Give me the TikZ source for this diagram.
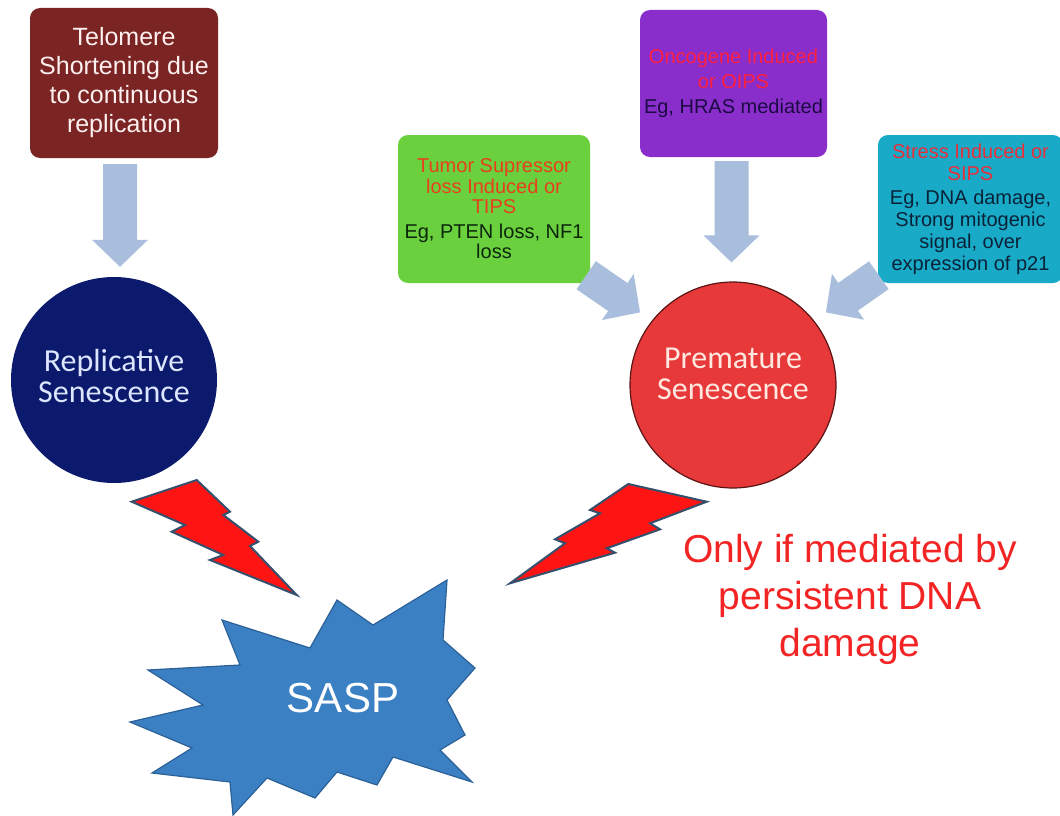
\documentclass[tikz,border=0pt]{standalone}
\usepackage{fontspec}
\setmainfont{Liberation Sans}
\newfontfamily\circfont{Carlito}
\usetikzlibrary{calc}

\definecolor{teloRed}{HTML}{7A2424}
\definecolor{teloText}{HTML}{FFF0F0}
\definecolor{tipsGreen}{HTML}{6AD03E}
\definecolor{tipsRed}{HTML}{E8401C}
\definecolor{tipsDark}{HTML}{0C260C}
\definecolor{oipsPurple}{HTML}{8A2ECB}
\definecolor{oipsRed}{HTML}{FF1F3F}
\definecolor{oipsDark}{HTML}{1C0A44}
\definecolor{sipsCyan}{HTML}{19AAC8}
\definecolor{sipsRed}{HTML}{E8303A}
\definecolor{sipsDark}{HTML}{0A2238}
\definecolor{repNavy}{HTML}{0B1A6C}
\definecolor{repText}{HTML}{DDE6FF}
\definecolor{preRed}{HTML}{E8393A}
\definecolor{preEdge}{HTML}{5A1414}
\definecolor{preText}{HTML}{FFE8E0}
\definecolor{arrowBlue}{HTML}{A8BEDC}
\definecolor{boltRed}{HTML}{FF1414}
\definecolor{boltEdge}{HTML}{34506C}
\definecolor{saspBlue}{HTML}{3B80C3}
\definecolor{saspEdge}{HTML}{2C6198}
\definecolor{noteRed}{HTML}{F22424}

% wide block arrow from #1 to #2 (tip at #2)
\newcommand\blockarrow[2]{%
  \path ($(#2)!27pt!(#1)$) coordinate (ba-base);
  \fill[arrowBlue] ($(#1)!17pt!-90:(#2)$) -- ($(ba-base)!17pt!90:(#1)$)
    -- ($(ba-base)!28pt!90:(#1)$) -- (#2) -- ($(ba-base)!28pt!-90:(#1)$)
    -- ($(ba-base)!17pt!-90:(#1)$) -- ($(#1)!17pt!90:(#2)$) -- cycle;}

\begin{document}
\begin{tikzpicture}[x=1pt,y=-1pt,
  box/.style={rounded corners=10pt, inner sep=0pt, align=center,
    font=\fontsize{20}{20.5}\selectfont},
  disc/.style={circle, inner sep=0pt, minimum size=206pt},
  disctext/.style={align=center, inner sep=0pt, font=\circfont\fontsize{32}{31}\selectfont},
  bolt/.style={fill=boltRed, draw=boltEdge, line width=2pt, line join=miter},
]
\useasboundingbox (0,0) rectangle (1060,816);
\fill[white] (0,0) rectangle (1060,816);

% cause boxes
\node[box, fill=teloRed, minimum width=188pt, minimum height=150pt,
  text=teloText, font=\fontsize{25}{29}\selectfont] (telo) at (124,83)
  {Telomere\\Shortening due\\to continuous\\replication};
\node[box, fill=tipsGreen, minimum width=192pt, minimum height=148pt,
  text=tipsDark] (tips) at (494,209)
  {\color{tipsRed}Tumor Supressor\\\color{tipsRed}loss Induced or\\\color{tipsRed}TIPS\\[4pt]
   Eg, PTEN loss, NF1\\loss};
\node[box, fill=oipsPurple, minimum width=187pt, minimum height=147pt,
  text=oipsDark, font=\fontsize{20}{25}\selectfont] (oips) at (733.5,83.5)
  {\color{oipsRed}Oncogene Induced\\\color{oipsRed}or OIPS\\
   Eg, HRAS mediated};
\node[box, fill=sipsCyan, minimum width=185pt, minimum height=148pt,
  text=sipsDark, font=\fontsize{20}{22}\selectfont] (sips) at (970.5,209)
  {\color{sipsRed}Stress Induced or\\\color{sipsRed}SIPS\\[2pt]
   Eg, DNA damage,\\Strong mitogenic\\signal, over\\expression of p21};

% senescence states
\node[disc, fill=repNavy] (rep) at (114,380) {};
\node[disctext, text=repText] (reptext) at (114,376) {Replicative\\Senescence};
\node[disc, fill=preRed, draw=preEdge, line width=1.2pt] (pre) at (733,385) {};
\node[disctext, text=preText] (pretext) at (733,374) {Premature\\Senescence};

% block arrows into the senescence states
\coordinate (a1s) at ([xshift=-4pt,yshift=-6pt]telo.south);
\coordinate (a1e) at ($(a1s |- rep.north)+(0,-10)$);
\coordinate (a2s) at ($(oips.south)+(-2,4)$);
\coordinate (a2e) at ($(a2s |- pre.north)+(0,-19)$);
\coordinate (a3s) at ($(tips.south east)+(-4,-8)$);
\coordinate (a3e) at ($(pre.center)!118pt!(pre.142)$);
\coordinate (a4s) at ($(sips.south west)+(1,-8)$);
\coordinate (a4e) at ($(pre.center)!118pt!(pre.38)$);
\blockarrow{a1s}{a1e}
\blockarrow{a2s}{a2e}
\blockarrow{a3s}{a3e}
\blockarrow{a4s}{a4e}

% lightning bolts
\draw[bolt] (131.7,501.7) -- (196.7,480) -- (230,511.7) -- (223.3,515) -- (258.3,541.7)
  -- (250,546) -- (296.7,595) -- (210,560) -- (223.3,555) -- (171.7,531.7)
  -- (185,525) -- cycle;
\draw[bolt] (628.3,484) -- (706.7,501.7) -- (650,523.3) -- (660,529.3) -- (606.7,548.3)
  -- (615,552.7) -- (510,583.3) -- (565,543.3) -- (555,539.3) -- (600,513.3)
  -- (590,510) -- cycle;

% SASP burst
\draw[fill=saspBlue, draw=saspEdge, line width=1.2pt, line join=miter]
  (222,620) -- (310,648) -- (337,600) -- (373,625) -- (447,580) -- (443,640)
  -- (475,668) -- (447,700) -- (465,735) -- (440,750) -- (472,782) -- (393,757)
  -- (377,785) -- (337,772) -- (315,798) -- (267,778) -- (233,815) -- (230,782)
  -- (152,773) -- (192,748) -- (130,722) -- (203,705) -- (148,670) -- (240,665)
  -- cycle;
\node[text=white, inner sep=0pt, font=\fontsize{42}{42}\selectfont] (sasp) at (343,698) {SASP};

% note
\node[text=noteRed, align=center, inner sep=0pt, font=\fontsize{39}{47}\selectfont]
  (note) at (850,599) {Only if mediated by\\persistent DNA\\damage};
\end{tikzpicture}
\end{document}
